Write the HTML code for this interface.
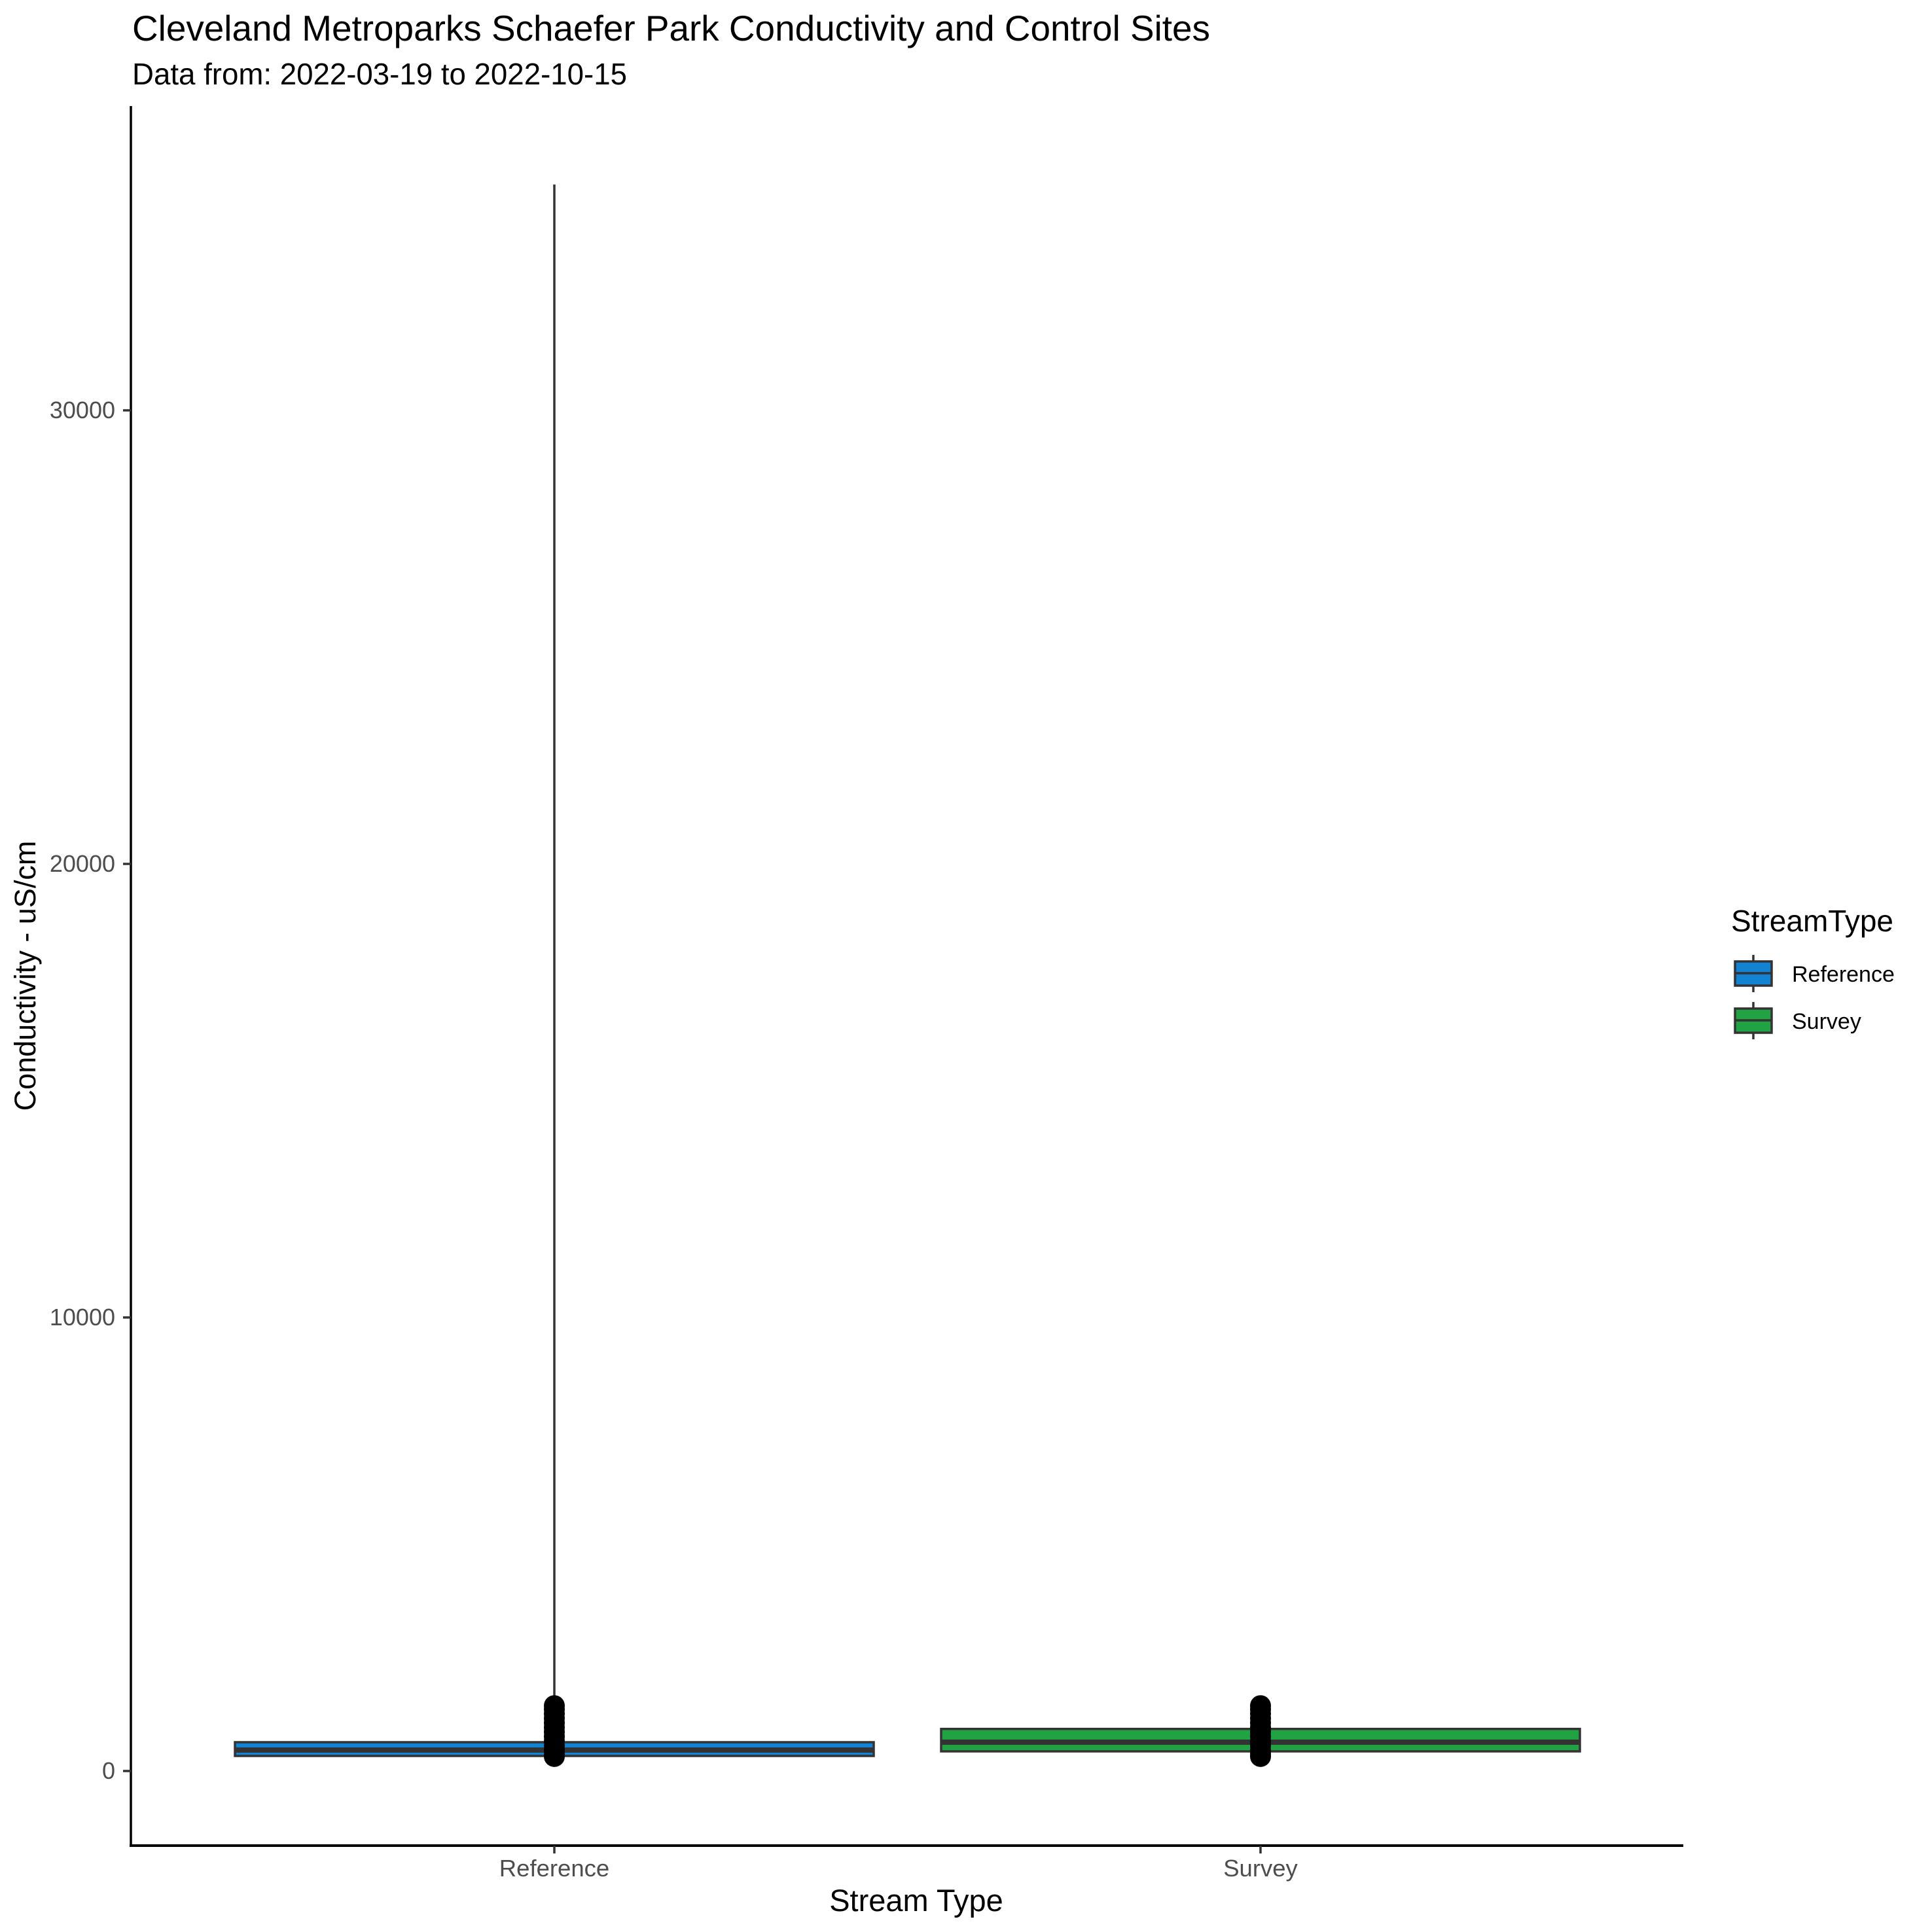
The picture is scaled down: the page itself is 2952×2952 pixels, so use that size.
<!DOCTYPE html>
<html><head><meta charset="utf-8"><style>
html,body{margin:0;padding:0;background:#fff}
svg{display:block;font-family:"Liberation Sans",Arial,sans-serif}
</style></head><body>
<svg id="chart" width="2952" height="2952" viewBox="0 0 2952 2952" xmlns="http://www.w3.org/2000/svg">
<rect width="2952" height="2952" fill="#fff"/>
<text x="202" y="62" font-size="55" fill="#000" textLength="1647" lengthAdjust="spacingAndGlyphs">Cleveland Metroparks Schaefer Park Conductivity and Control Sites</text>
<text x="202" y="129" font-size="46" fill="#000" textLength="756" lengthAdjust="spacingAndGlyphs">Data from: 2022-03-19 to 2022-10-15</text>
<g id="plot"></g>
<line x1="200" y1="162" x2="200" y2="2822" stroke="#000" stroke-width="3.5"/>
<line x1="198" y1="2820" x2="2572" y2="2820" stroke="#000" stroke-width="4"/>
<text transform="translate(54,1491) rotate(-90)" text-anchor="middle" font-size="45" fill="#000">Conductivity - uS/cm</text>
<text x="1400" y="2920" text-anchor="middle" font-size="47" fill="#000">Stream Type</text>
<g>
<text x="2645" y="1423" font-size="46" fill="#000">StreamType</text>
<g>
<line x1="2679" y1="1459" x2="2679" y2="1516" stroke="#333" stroke-width="3.5"/>
<rect x="2651" y="1469" width="56" height="37" fill="#1282d2" stroke="#333" stroke-width="3.5"/>
<line x1="2651" y1="1487" x2="2707" y2="1487" stroke="#333" stroke-width="3.5"/>
<text x="2738" y="1500" font-size="34" fill="#000">Reference</text>
</g>
<g>
<line x1="2679" y1="1531" x2="2679" y2="1588" stroke="#333" stroke-width="3.5"/>
<rect x="2651" y="1541" width="56" height="37" fill="#21a344" stroke="#333" stroke-width="3.5"/>
<line x1="2651" y1="1559" x2="2707" y2="1559" stroke="#333" stroke-width="3.5"/>
<text x="2738" y="1572" font-size="34" fill="#000">Survey</text>
</g>
</g>
</svg>
<script>
const categories = ["Reference", "Survey"];
const colors = ["#1282d2", "#21a344"];
const q1Values = [332, 433];
const medianValues = [462, 635];
const q3Values = [635, 928];
const whiskerLow = [320, 330];
const whiskerHigh = [34980, 1440];
const outliersRef = [320, 380, 460, 560, 660, 760, 860, 960, 1060, 1160, 1260, 1360, 1440];
const outliersSurvey = [320, 380, 460, 560, 660, 760, 860, 960, 1060, 1160, 1260, 1360, 1440];
const outliers = [outliersRef, outliersSurvey];
const yTicks = [0, 10000, 20000, 30000];

const NS = "http://www.w3.org/2000/svg";
const svg = document.getElementById("chart");
const plot = document.getElementById("plot");
function yScale(v){ return 2706 - v * 0.06930; }
function xScale(i){ return 847 + i * 1079; }
const halfW = 488;
function mk(tag, attrs, parent){
  const e = document.createElementNS(NS, tag);
  for (const k in attrs) e.setAttribute(k, attrs[k]);
  (parent || plot).appendChild(e);
  return e;
}
yTicks.forEach(function(t){
  const y = yScale(t);
  const tk = mk("line", {x1:188, x2:200, y1:y, y2:y, stroke:"#333", "stroke-width":3.5}, svg);
  
  
  const lb = mk("text", {x:176, y:y+12, "text-anchor":"end", "font-size":36, fill:"#4d4d4d"}, svg);
  lb.textContent = String(t);
  
  
});
categories.forEach(function(c, i){
  const x = xScale(i);
  const tk = mk("line", {x1:x, x2:x, y1:2820, y2:2832, stroke:"#333", "stroke-width":3.5}, svg);
  
  
  const lb = mk("text", {x:x, y:2867, "text-anchor":"middle", "font-size":36.5, fill:"#4d4d4d"}, svg);
  lb.textContent = c;
  
  

  const w1 = mk("line", {x1:x, x2:x, y1:yScale(q3Values[i]), y2:yScale(whiskerHigh[i]), stroke:"#333", "stroke-width":3.5});
  
  
  const w2 = mk("line", {x1:x, x2:x, y1:yScale(q1Values[i]), y2:yScale(whiskerLow[i]), stroke:"#333", "stroke-width":3.5});
  
  
  const b = mk("rect", {x:x-halfW, y:yScale(q3Values[i]), width:2*halfW, height:yScale(q1Values[i])-yScale(q3Values[i]), fill:colors[i], stroke:"#333", "stroke-width":3.5});
  
  
  const m = mk("line", {x1:x-halfW, x2:x+halfW, y1:yScale(medianValues[i]), y2:yScale(medianValues[i]), stroke:"#333", "stroke-width":8});
  
  
  outliers[i].forEach(function(v){
    const p = mk("circle", {cx:x, cy:yScale(v), r:16, fill:"#000"});
    
    
  });
});
</script>
</body></html>
